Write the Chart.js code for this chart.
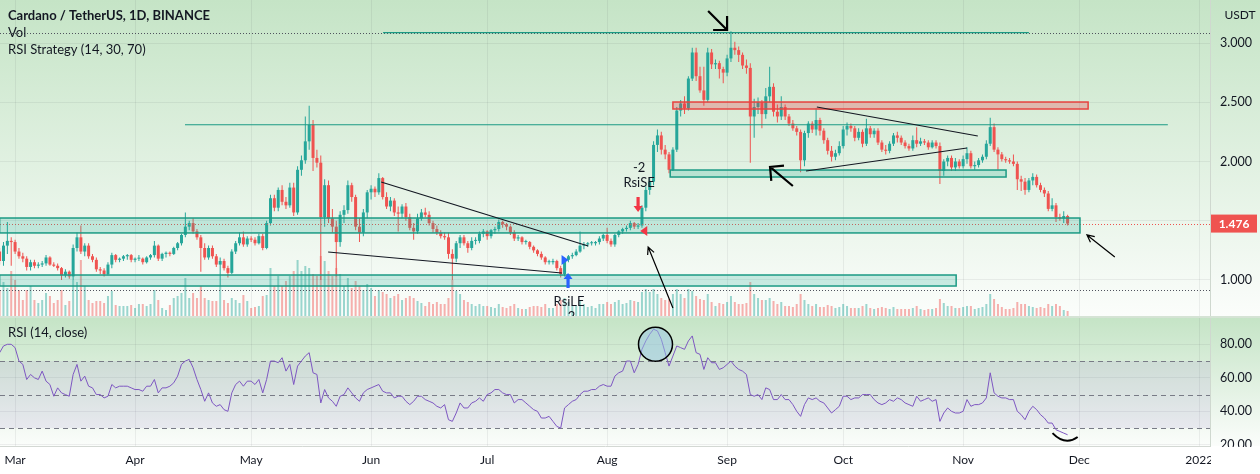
<!DOCTYPE html>
<html>
<head>
<meta charset="utf-8">
<title>Cardano / TetherUS, 1D</title>
<script src="https://cdn.jsdelivr.net/npm/chart.js@4.4.1/dist/chart.umd.min.js"></script>
<style>
  html, body { margin: 0; padding: 0; background: #ffffff; }
  #wrap { position: relative; width: 1260px; height: 474px; overflow: hidden; }
  #priceChart { position: absolute; left: 0; top: 0; }
  #sep { position: absolute; left: 0; top: 316px; width: 1260px; height: 2px; background: #d5e3d5; }
  #rsiChart { position: absolute; left: 0; top: 318px; }
</style>
</head>
<body>
<div id="wrap">
  <canvas id="priceChart" width="1260" height="316"></canvas>
  <div id="sep"></div>
  <canvas id="rsiChart" width="1260" height="156"></canvas>
</div>
<script>
// day 0 = 1 Mar 2021, first candle is 25 Feb 2021
const firstDay = -4;

// daily candles, Feb 25 .. Nov 28 (one row per month)
const opens = [
  1.24,1.16,1.29,1.33,
  1.32,1.24,1.20,1.18,1.11,1.15,1.12,1.13,1.14,1.19,1.13,1.12,1.10,1.04,1.07,1.03,1.27,1.36,1.24,1.29,1.20,1.17,1.09,1.08,1.05,1.13,1.21,1.17,1.18,1.20,1.21,
  1.17,1.18,1.18,1.15,1.19,1.21,1.29,1.18,1.22,1.23,1.22,1.27,1.31,1.38,1.45,1.48,1.41,1.36,1.27,1.19,1.27,1.20,1.13,1.16,1.10,1.06,1.24,1.31,1.36,1.30,
  1.35,1.34,1.31,1.37,1.27,1.48,1.69,1.61,1.76,1.66,1.63,1.78,1.57,1.93,2.01,2.17,2.31,2.03,1.99,1.53,1.80,1.52,1.45,1.32,1.55,1.59,1.80,1.70,1.45,1.40,1.57,
  1.74,1.77,1.74,1.86,1.70,1.62,1.67,1.57,1.56,1.62,1.53,1.44,1.41,1.52,1.57,1.55,1.48,1.43,1.40,1.37,1.36,1.22,1.18,1.31,1.36,1.31,1.27,1.33,1.33,1.39,
  1.41,1.37,1.42,1.43,1.49,1.47,1.45,1.40,1.35,1.36,1.32,1.32,1.28,1.25,1.22,1.19,1.15,1.15,1.16,1.10,1.05,1.17,1.20,1.21,1.24,1.29,1.30,1.31,1.31,1.32,1.35,
  1.38,1.33,1.30,1.38,1.41,1.43,1.44,1.48,1.45,1.46,1.61,1.76,1.83,2.14,2.22,2.10,2.06,1.93,2.10,2.43,2.49,2.45,2.70,2.92,2.72,2.60,2.52,2.92,2.82,2.83,2.78,
  2.75,2.87,2.96,2.94,2.90,2.81,2.79,2.38,2.46,2.50,2.40,2.55,2.63,2.42,2.38,2.46,2.38,2.32,2.28,2.25,2.01,2.24,2.32,2.27,2.35,2.26,2.18,2.09,2.04,2.07,
  2.13,2.27,2.30,2.28,2.20,2.25,2.15,2.28,2.23,2.26,2.16,2.10,2.09,2.15,2.22,2.20,2.16,2.13,2.11,2.18,2.15,2.17,2.16,2.12,2.16,2.13,1.92,2.00,2.03,1.95,2.00,
  1.96,2.02,2.07,1.96,1.97,2.01,2.04,2.15,2.29,2.10,2.06,2.02,2.01,2.00,1.98,1.85,1.83,1.76,1.84,1.87,1.80,1.76,1.73,1.60,1.63,1.53,1.52,1.54
];
const highs = [
  1.27,1.32,1.49,1.36,
  1.34,1.27,1.23,1.20,1.17,1.17,1.15,1.16,1.21,1.20,1.15,1.14,1.11,1.09,1.08,1.30,1.40,1.46,1.31,1.31,1.22,1.19,1.11,1.10,1.15,1.23,1.22,1.19,1.21,1.22,1.22,
  1.19,1.21,1.19,1.20,1.22,1.33,1.30,1.23,1.24,1.24,1.28,1.32,1.39,1.57,1.50,1.52,1.43,1.38,1.31,1.29,1.29,1.22,1.19,1.18,1.12,1.26,1.33,1.40,1.41,1.37,
  1.37,1.36,1.39,1.39,1.50,1.72,1.72,1.78,1.80,1.70,1.82,1.82,1.96,2.05,2.38,2.47,2.35,2.10,2.05,1.85,1.84,1.60,1.50,1.58,1.63,1.84,1.82,1.72,1.52,1.60,1.76,
  1.80,1.79,1.90,1.87,1.74,1.70,1.69,1.62,1.64,1.65,1.56,1.48,1.56,1.60,1.61,1.58,1.50,1.46,1.42,1.40,1.40,1.26,1.33,1.38,1.38,1.33,1.36,1.36,1.41,1.43,
  1.42,1.43,1.45,1.51,1.50,1.48,1.46,1.42,1.38,1.37,1.34,1.33,1.29,1.26,1.24,1.20,1.17,1.18,1.17,1.12,1.18,1.21,1.23,1.26,1.41,1.32,1.32,1.33,1.33,1.37,1.39,
  1.44,1.35,1.39,1.42,1.44,1.46,1.50,1.49,1.48,1.63,1.79,1.86,2.17,2.27,2.25,2.14,2.08,2.12,2.46,2.52,2.55,2.72,2.96,2.96,2.80,2.80,2.96,2.95,2.86,2.85,2.80,
  2.90,3.10,3.01,2.97,2.92,2.86,2.83,2.53,2.54,2.52,2.62,2.80,2.66,2.48,2.55,2.48,2.40,2.35,2.30,2.27,2.26,2.34,2.34,2.45,2.37,2.28,2.20,2.13,2.10,2.17,
  2.30,2.33,2.32,2.30,2.28,2.27,2.36,2.30,2.28,2.28,2.18,2.14,2.17,2.24,2.25,2.22,2.18,2.15,2.22,2.29,2.20,2.19,2.18,2.18,2.18,2.16,2.02,2.05,2.05,2.03,2.02,
  2.05,2.12,2.09,2.00,2.03,2.06,2.18,2.37,2.32,2.12,2.08,2.04,2.03,2.06,2.00,1.88,1.86,1.86,1.90,1.89,1.82,1.78,1.75,1.69,1.65,1.56,1.58,1.55
];
const lows = [
  1.13,1.12,1.22,1.12,
  1.22,1.18,1.15,1.08,1.08,1.10,1.10,1.11,1.12,1.12,1.11,1.08,1.00,1.02,1.01,1.00,1.24,1.22,1.20,1.18,1.15,1.07,1.05,1.03,1.04,1.10,1.15,1.15,1.16,1.17,1.15,
  1.15,1.16,1.13,1.14,1.17,1.19,1.16,1.16,1.19,1.20,1.21,1.25,1.29,1.36,1.42,1.39,1.34,1.07,1.17,1.17,1.18,1.11,0.95,1.08,1.02,1.05,1.22,1.29,1.28,1.28,
  1.32,1.29,1.30,1.25,1.26,1.46,1.58,1.58,1.63,1.60,1.61,1.54,1.55,1.88,1.98,2.10,1.92,1.95,1.00,1.45,1.48,1.40,1.03,1.28,1.48,1.56,1.66,1.42,1.32,1.37,1.52,
  1.68,1.70,1.72,1.68,1.60,1.58,1.54,1.41,1.52,1.50,1.42,1.34,1.39,1.50,1.53,1.46,1.40,1.38,1.35,1.34,1.18,1.00,1.15,1.27,1.29,1.23,1.25,1.30,1.31,1.36,
  1.34,1.35,1.39,1.41,1.44,1.42,1.38,1.33,1.33,1.30,1.30,1.26,1.23,1.20,1.17,1.13,1.13,1.13,1.08,1.02,1.03,1.15,1.18,1.20,1.23,1.26,1.28,1.29,1.29,1.30,1.33,
  1.31,1.28,1.28,1.36,1.39,1.41,1.42,1.43,1.43,1.44,1.58,1.72,1.80,2.08,2.06,2.02,1.90,1.92,2.08,2.38,2.40,2.43,2.68,2.68,2.58,2.47,2.50,2.78,2.78,2.70,2.66,
  2.72,2.84,2.90,2.84,2.78,2.74,1.99,2.20,2.40,2.28,2.36,2.50,2.38,2.33,2.35,2.35,2.30,2.26,2.22,1.91,1.96,2.20,2.24,2.22,2.22,2.15,2.06,2.00,2.01,2.05,
  2.11,2.22,2.25,2.17,2.18,2.12,2.13,2.20,2.20,2.14,2.08,2.06,2.07,2.13,2.16,2.14,2.11,2.09,2.09,2.12,2.13,2.14,2.10,2.11,2.11,1.81,1.88,1.96,1.92,1.92,1.94,
  1.94,1.98,1.94,1.93,1.95,1.99,2.02,2.13,2.08,1.93,2.00,1.99,1.98,1.96,1.76,1.75,1.72,1.74,1.80,1.78,1.74,1.70,1.58,1.58,1.49,1.50,1.48,1.46
];
const closes = [
  1.16,1.29,1.33,1.32,
  1.24,1.20,1.18,1.11,1.15,1.12,1.13,1.14,1.19,1.13,1.12,1.10,1.04,1.07,1.03,1.27,1.36,1.24,1.29,1.20,1.17,1.09,1.08,1.05,1.13,1.21,1.17,1.18,1.20,1.21,1.17,
  1.18,1.18,1.15,1.19,1.21,1.29,1.18,1.22,1.23,1.22,1.27,1.31,1.38,1.45,1.48,1.41,1.36,1.27,1.19,1.27,1.20,1.13,1.16,1.10,1.06,1.24,1.31,1.36,1.30,1.35,
  1.34,1.31,1.37,1.27,1.48,1.69,1.61,1.76,1.66,1.63,1.78,1.57,1.93,2.01,2.17,2.31,2.03,1.99,1.53,1.80,1.52,1.45,1.32,1.55,1.59,1.80,1.70,1.45,1.40,1.57,1.74,
  1.77,1.74,1.86,1.70,1.62,1.67,1.57,1.56,1.62,1.53,1.44,1.41,1.52,1.57,1.55,1.48,1.43,1.40,1.37,1.36,1.22,1.18,1.31,1.36,1.31,1.27,1.33,1.33,1.39,1.41,
  1.37,1.42,1.43,1.49,1.47,1.45,1.40,1.35,1.36,1.32,1.32,1.28,1.25,1.22,1.19,1.15,1.15,1.16,1.10,1.05,1.17,1.20,1.21,1.24,1.29,1.30,1.31,1.31,1.32,1.35,1.38,
  1.33,1.30,1.38,1.41,1.43,1.44,1.48,1.45,1.46,1.61,1.76,1.83,2.14,2.22,2.10,2.06,1.93,2.10,2.43,2.49,2.45,2.70,2.92,2.72,2.60,2.52,2.92,2.82,2.83,2.78,2.75,
  2.87,2.96,2.94,2.90,2.81,2.79,2.38,2.46,2.50,2.40,2.55,2.63,2.42,2.38,2.46,2.38,2.32,2.28,2.25,2.01,2.24,2.32,2.27,2.35,2.26,2.18,2.09,2.04,2.07,2.13,
  2.27,2.30,2.28,2.20,2.25,2.15,2.28,2.23,2.26,2.16,2.10,2.09,2.15,2.22,2.20,2.16,2.13,2.11,2.18,2.15,2.17,2.16,2.12,2.16,2.13,1.92,2.00,2.03,1.95,2.00,1.96,
  2.02,2.07,1.96,1.97,2.01,2.04,2.15,2.29,2.10,2.06,2.02,2.01,2.00,1.98,1.85,1.83,1.76,1.84,1.87,1.80,1.76,1.73,1.60,1.63,1.53,1.52,1.54,1.476
];
const volumes = [
  25,34,28,45,
  36,26,16,26,30,16,13,16,23,20,13,16,26,11,15,36,34,56,30,16,13,15,15,13,20,25,11,10,10,10,11,
  8,12,12,10,12,26,16,8,6,11,18,20,23,38,18,23,18,30,18,16,15,15,30,16,13,18,16,13,21,15,
  8,9,10,20,21,48,30,40,30,35,40,45,56,45,50,48,42,40,60,55,45,40,48,42,30,38,28,35,30,26,32,
  28,20,26,24,22,18,20,22,16,18,20,18,15,13,10,14,12,14,12,12,18,36,25,22,16,14,12,10,12,10,
  10,9,8,12,9,8,10,12,8,7,7,9,10,10,9,12,8,8,12,16,18,14,10,10,16,12,9,10,8,12,12,
  14,12,14,16,12,13,16,15,14,24,27,24,27,22,18,16,17,22,27,22,18,27,25,20,17,16,22,14,10,13,12,
  14,20,14,12,12,13,34,22,18,16,16,18,15,12,14,10,10,9,12,22,16,12,10,12,9,9,11,10,8,9,
  12,10,8,8,8,10,12,8,7,8,9,8,7,9,7,7,7,7,8,10,7,6,7,7,8,17,13,10,10,8,8,
  9,10,10,7,8,9,12,22,17,12,9,7,7,8,14,12,12,10,9,8,9,8,12,10,12,10,6,5
];
const rsiValues = [
  75,79,80,80,
  78,70,68,59,62,60,59,64,58,56,49,54,51,50,49,62,68,58,61,55,54,50,50,48,49,56,54,55,55,55,54,
  53,53,52,55,55,59,51,54,54,55,57,61,68,70,71,66,59,53,46,51,45,43,44,41,40,51,56,58,55,58,
  58,56,59,51,59,70,70,69,72,64,68,56,67,70,73,75,63,62,45,53,48,46,43,49,50,54,51,48,46,51,53,
  54,55,56,52,51,51,48,49,49,46,44,46,49,49,47,46,45,43,42,44,35,34,39,45,42,42,45,46,48,46,
  50,51,53,53,51,50,50,45,47,47,45,43,41,40,36,36,37,34,31,30,42,44,46,47,50,52,52,53,53,55,56,
  55,55,61,63,64,70,70,63,68,77,82,86,89,88,83,75,67,73,79,78,77,82,85,75,74,65,72,69,69,65,66,
  68,70,67,65,64,62,50,49,50,47,54,53,47,47,50,47,47,44,40,37,44,48,47,48,46,45,42,39,41,43,
  49,49,47,48,48,50,50,50,47,45,44,45,47,46,48,47,45,44,43,49,46,47,48,46,47,34,39,42,40,39,39,
  40,47,43,44,44,45,48,63,51,49,48,48,47,47,40,38,35,40,43,41,38,36,33,33,29,28,27,26
];

const monthDays = [0, 31, 61, 92, 122, 153, 184, 214, 245, 275, 306];
const monthLabels = ['Mar', 'Apr', 'May', 'Jun', 'Jul', 'Aug', 'Sep', 'Oct', 'Nov', 'Dec', '2022'];
const priceTicks = [1.0, 1.5, 2.0, 2.5, 3.0];
const priceTickLabels = ['1.000', '', '2.000', '2.500', '3.000'];
const rsiTicks = [20, 40, 60, 80];
const rsiLevels = [70, 50, 30];
const lastPrice = 1.476;
const highLine = 3.088;
const lowLine = 0.916;

// drawings, in (day, price)
const zones = [
  { from: -4, to: 275.2, top: 1.523, bottom: 1.397, red: false },
  { from: -4, to: 243.2, top: 1.042, bottom: 0.949, red: false },
  { from: 169.3, to: 256.1, top: 1.928, bottom: 1.869, red: false },
  { from: 170.0, to: 277.3, top: 2.502, bottom: 2.443, red: true }
];
const levels = [
  { from: 95.1, to: 262.0, price: 3.088 },
  { from: 43.9, to: 297.9, price: 2.31 }
];
const trendLines = [
  [94.6, 1.827, 148.1, 1.287],
  [80.9, 1.236, 141.3, 1.059],
  [207.2, 2.46, 248.8, 2.215],
  [204.4, 1.92, 246.0, 2.114]
];
const arrows = [
  { from: [179.1, 3.27], to: [184.0, 3.11], bold: true },
  { from: [201.0, 1.793], to: [195.1, 1.954], bold: true },
  { from: [170.0, 0.764], to: [163.6, 1.278], bold: false },
  { from: [284.2, 1.194], to: [277.0, 1.380], bold: false }
];
const signals = [
  { day: 142.9, price: 1.059, long: true, name: 'RsiLE', qty: '-2', flagDay: 142.0, flagPrice: 1.169 },
  { day: 161.0, price: 1.574, long: false, name: 'RsiSE', qty: '-2', flagDay: 162.6, flagPrice: 1.414 }
];
const rsiCircle = { day: 165.5, value: 80 };
const rsiSmile = [[268.1, 27.0], [271.4, 19.2], [274.6, 24.7]];

const days = closes.map((_, i) => firstDay + i);
const xMin = -3.9, xMax = 308.8;
const UP = '#26a69a', DOWN = '#ef5350';
const FONT = 'Lato, "Open Sans", sans-serif';
const TEXT = '#131722';
const GRID = 'rgba(42,46,57,0.07)';

Chart.defaults.font.family = FONT;
Chart.defaults.font.size = 12;
Chart.defaults.color = TEXT;

const candleColors = closes.map((c, i) => c >= opens[i] ? UP : DOWN);
const volColors = closes.map((c, i) => c >= opens[i] ? 'rgba(38,166,154,0.45)' : 'rgba(239,83,80,0.45)');

function paneBackground(ctx, w, top, bottom) {
  const g = ctx.createLinearGradient(0, top, 0, bottom);
  g.addColorStop(0, '#c5e4c6');
  g.addColorStop(1, '#fbfdfb');
  ctx.fillStyle = g;
  ctx.fillRect(0, top, w, bottom - top);
}

function drawArrow(ctx, x0, y0, x1, y1, len, ang, lw) {
  const a = Math.atan2(y0 - y1, x0 - x1);
  ctx.lineWidth = lw;
  ctx.beginPath();
  ctx.moveTo(x0, y0); ctx.lineTo(x1, y1);
  ctx.moveTo(x1 + len * Math.cos(a + ang), y1 + len * Math.sin(a + ang));
  ctx.lineTo(x1, y1);
  ctx.lineTo(x1 + len * Math.cos(a - ang), y1 + len * Math.sin(a - ang));
  ctx.stroke();
}

const priceDecor = {
  id: 'priceDecor',
  beforeDraw(chart) {
    const { ctx, width, height } = chart;
    ctx.save();
    paneBackground(ctx, width, 0, height);
    ctx.restore();
  },
  afterDatasetsDraw(chart) {
    const { ctx, chartArea: a, scales: { x, y } } = chart;
    const X = v => x.getPixelForValue(v), Y = v => y.getPixelForValue(v);
    ctx.save();
    ctx.beginPath();
    ctx.rect(a.left, a.top, a.right - a.left, a.bottom - a.top);
    ctx.clip();

    // dotted high / low / last price lines
    ctx.lineWidth = 1;
    ctx.setLineDash([1, 2]);
    ctx.strokeStyle = '#50535e';
    [highLine, lowLine].forEach(p => {
      const yy = Math.round(Y(p)) + 0.5;
      ctx.beginPath(); ctx.moveTo(a.left, yy); ctx.lineTo(a.right, yy); ctx.stroke();
    });
    ctx.strokeStyle = DOWN;
    const ly = Math.round(Y(lastPrice)) + 0.5;
    ctx.beginPath(); ctx.moveTo(a.left, ly); ctx.lineTo(a.right, ly); ctx.stroke();
    ctx.setLineDash([]);

    // zones
    zones.forEach(z => {
      const x0 = X(z.from), x1 = X(z.to), y0 = Y(z.top), y1 = Y(z.bottom);
      ctx.fillStyle = z.red ? 'rgba(242,54,69,0.28)' : 'rgba(34,171,148,0.22)';
      ctx.fillRect(x0, y0, x1 - x0, y1 - y0);
      ctx.strokeStyle = z.red ? '#e8433f' : '#1b9a84';
      ctx.lineWidth = 1.5;
      ctx.strokeRect(x0, y0, x1 - x0, y1 - y0);
    });

    // horizontal levels
    ctx.strokeStyle = '#1b9a84';
    ctx.lineWidth = 1.2;
    levels.forEach(l => {
      const yy = Y(l.price);
      ctx.beginPath(); ctx.moveTo(X(l.from), yy); ctx.lineTo(X(l.to), yy); ctx.stroke();
    });

    // trend lines
    ctx.strokeStyle = TEXT;
    ctx.lineWidth = 1.2;
    trendLines.forEach(t => {
      ctx.beginPath(); ctx.moveTo(X(t[0]), Y(t[1])); ctx.lineTo(X(t[2]), Y(t[3])); ctx.stroke();
    });

    // arrows
    ctx.strokeStyle = '#000000';
    arrows.forEach(ar => {
      drawArrow(ctx, X(ar.from[0]), Y(ar.from[1]), X(ar.to[0]), Y(ar.to[1]),
        ar.bold ? 14 : 8, ar.bold ? Math.PI / 4 : Math.PI / 7, ar.bold ? 2.2 : 1.2);
    });

    // strategy signals
    signals.forEach(s => {
      const sx = X(s.day), sy = Y(s.price);
      const fx = X(s.flagDay), fy = Y(s.flagPrice);
      const dir = s.long ? 1 : -1;
      ctx.fillStyle = s.long ? '#2962ff' : '#f23645';
      ctx.beginPath();
      ctx.moveTo(sx, sy);
      ctx.lineTo(sx + 4.5, sy + dir * 6);
      ctx.lineTo(sx + 1.6, sy + dir * 6);
      ctx.lineTo(sx + 1.6, sy + dir * 15);
      ctx.lineTo(sx - 1.6, sy + dir * 15);
      ctx.lineTo(sx - 1.6, sy + dir * 6);
      ctx.lineTo(sx - 4.5, sy + dir * 6);
      ctx.closePath();
      ctx.fill();
      ctx.beginPath();
      if (s.long) {
        ctx.moveTo(fx - 3, fy - 5); ctx.lineTo(fx + 4, fy); ctx.lineTo(fx - 3, fy + 5);
      } else {
        ctx.moveTo(fx + 3, fy - 5); ctx.lineTo(fx - 4, fy); ctx.lineTo(fx + 3, fy + 5);
      }
      ctx.closePath();
      ctx.fill();
      ctx.fillStyle = TEXT;
      ctx.font = '13px ' + FONT;
      ctx.textAlign = 'center';
      ctx.textBaseline = 'middle';
      ctx.fillText(s.name, sx + 1, sy + dir * 29);
      ctx.fillText(s.qty, sx + 1, sy + dir * 44);
    });
    ctx.restore();
  },
  afterDraw(chart) {
    const { ctx, chartArea: a, scales: { y } } = chart;
    ctx.save();
    ctx.fillStyle = TEXT;
    ctx.textAlign = 'left';
    ctx.textBaseline = 'middle';
    ctx.font = 'bold 13px ' + FONT;
    ctx.fillText('Cardano / TetherUS, 1D, BINANCE', 8, 16);
    ctx.font = '13px ' + FONT;
    ctx.fillText('Vol', 8, 33);
    ctx.fillText('RSI Strategy (14, 30, 70)', 8, 50);
    ctx.textAlign = 'center';
    ctx.font = '12px ' + FONT;
    ctx.fillText('USDT', a.right + 30, 15);
    // last price tag
    const py = y.getPixelForValue(lastPrice);
    ctx.fillStyle = DOWN;
    ctx.fillRect(a.right + 1, py - 9, 46, 18);
    ctx.fillStyle = '#ffffff';
    ctx.font = 'bold 12px ' + FONT;
    ctx.fillText(lastPrice.toFixed(3), a.right + 24, py + 0.5);
    ctx.restore();
  }
};

new Chart(document.getElementById('priceChart'), {
  type: 'bar',
  data: {
    datasets: [
      {
        label: 'body',
        data: days.map((d, i) => ({ x: d, y: [opens[i], closes[i]] })),
        backgroundColor: candleColors,
        barThickness: 3, minBarLength: 1, inflateAmount: 0, grouped: false, order: 1, yAxisID: 'y'
      },
      {
        label: 'wick',
        data: days.map((d, i) => ({ x: d, y: [lows[i], highs[i]] })),
        backgroundColor: candleColors,
        barThickness: 1, inflateAmount: 0, grouped: false, order: 2, yAxisID: 'y'
      },
      {
        label: 'volume',
        data: days.map((d, i) => ({ x: d, y: volumes[i] })),
        backgroundColor: volColors,
        barThickness: 2, inflateAmount: 0, grouped: false, order: 3, yAxisID: 'yVol'
      }
    ]
  },
  options: {
    responsive: false,
    animation: false,
    events: [],
    plugins: { legend: { display: false }, tooltip: { enabled: false } },
    scales: {
      x: {
        type: 'linear', min: xMin, max: xMax, offset: false,
        afterBuildTicks: s => { s.ticks = monthDays.map(v => ({ value: v })); },
        ticks: { display: false },
        grid: { color: GRID, drawTicks: false, offset: false },
        border: { display: false },
        afterFit: s => { s.height = 0; s.paddingLeft = 0; s.paddingRight = 0; }
      },
      y: {
        position: 'right', min: 0.696, max: 3.363,
        afterBuildTicks: s => { s.ticks = priceTicks.map(v => ({ value: v })); },
        ticks: {
          padding: 10, color: TEXT, font: { size: 12.5 },
          callback: v => priceTickLabels[priceTicks.indexOf(v)]
        },
        grid: { color: GRID, drawTicks: false },
        border: { display: true, color: '#cfd8cf' },
        afterFit: s => { s.width = 50; s.paddingTop = 0; s.paddingBottom = 0; }
      },
      yVol: { display: false, min: 0, max: 316 }
    }
  },
  plugins: [priceDecor]
});

const rsiDecor = {
  id: 'rsiDecor',
  beforeDraw(chart) {
    const { ctx, width, height, chartArea: a } = chart;
    ctx.save();
    ctx.fillStyle = '#ffffff';
    ctx.fillRect(0, 0, width, height);
    paneBackground(ctx, width, 0, a.bottom);
    ctx.restore();
  },
  beforeDatasetsDraw(chart) {
    const { ctx, chartArea: a, scales: { y } } = chart;
    ctx.save();
    const yTop = y.getPixelForValue(rsiLevels[0]);
    const yBot = y.getPixelForValue(rsiLevels[2]);
    ctx.fillStyle = 'rgba(126,87,194,0.10)';
    ctx.fillRect(a.left, yTop, a.right - a.left, yBot - yTop);
    ctx.strokeStyle = '#787b86';
    ctx.lineWidth = 1;
    ctx.setLineDash([5, 4]);
    rsiLevels.forEach(v => {
      const yy = Math.round(y.getPixelForValue(v)) + 0.5;
      ctx.beginPath(); ctx.moveTo(a.left, yy); ctx.lineTo(a.right, yy); ctx.stroke();
    });
    ctx.restore();
  },
  afterDatasetsDraw(chart) {
    const { ctx, scales: { x, y } } = chart;
    ctx.save();
    ctx.beginPath();
    ctx.arc(x.getPixelForValue(rsiCircle.day), y.getPixelForValue(rsiCircle.value), 17, 0, Math.PI * 2);
    ctx.fillStyle = 'rgba(150,195,228,0.5)';
    ctx.fill();
    ctx.strokeStyle = '#000000';
    ctx.lineWidth = 1.5;
    ctx.stroke();
    ctx.beginPath();
    ctx.moveTo(x.getPixelForValue(rsiSmile[0][0]), y.getPixelForValue(rsiSmile[0][1]));
    ctx.quadraticCurveTo(
      x.getPixelForValue(rsiSmile[1][0]), y.getPixelForValue(rsiSmile[1][1]),
      x.getPixelForValue(rsiSmile[2][0]), y.getPixelForValue(rsiSmile[2][1]));
    ctx.lineWidth = 2;
    ctx.stroke();
    ctx.restore();
  },
  afterDraw(chart) {
    const { ctx, chartArea: a, width, height } = chart;
    ctx.save();
    ctx.fillStyle = '#ffffff';
    ctx.fillRect(a.right + 1, a.bottom + 1, width - a.right, height - a.bottom);
    ctx.fillStyle = TEXT;
    ctx.font = '13px ' + FONT;
    ctx.textAlign = 'left';
    ctx.textBaseline = 'middle';
    ctx.fillText('RSI (14, close)', 8, 15);
    ctx.restore();
  }
};

new Chart(document.getElementById('rsiChart'), {
  type: 'line',
  data: {
    datasets: [{
      label: 'RSI',
      data: days.map((d, i) => ({ x: d, y: rsiValues[i] })),
      borderColor: '#7e57c2',
      borderWidth: 1,
      pointRadius: 0,
      tension: 0,
      fill: false
    }]
  },
  options: {
    responsive: false,
    animation: false,
    events: [],
    plugins: { legend: { display: false }, tooltip: { enabled: false } },
    scales: {
      x: {
        type: 'linear', min: xMin, max: xMax,
        afterBuildTicks: s => { s.ticks = monthDays.map(v => ({ value: v })); },
        ticks: {
          autoSkip: false, maxRotation: 0, padding: 7, color: TEXT, font: { size: 12 },
          callback: v => monthLabels[monthDays.indexOf(v)]
        },
        grid: { color: GRID, drawTicks: false },
        border: { display: true, color: '#d3d8d3' },
        afterFit: s => { s.height = 28; s.paddingLeft = 0; s.paddingRight = 0; }
      },
      y: {
        position: 'right', min: 19.3, max: 95.7,
        afterBuildTicks: s => { s.ticks = rsiTicks.map(v => ({ value: v })); },
        ticks: { padding: 10, color: TEXT, font: { size: 12.5 }, callback: v => v.toFixed(2) },
        grid: { color: GRID, drawTicks: false },
        border: { display: true, color: '#cfd8cf' },
        afterFit: s => { s.width = 50; s.paddingTop = 0; s.paddingBottom = 0; }
      }
    }
  },
  plugins: [rsiDecor]
});
</script>
</body>
</html>
